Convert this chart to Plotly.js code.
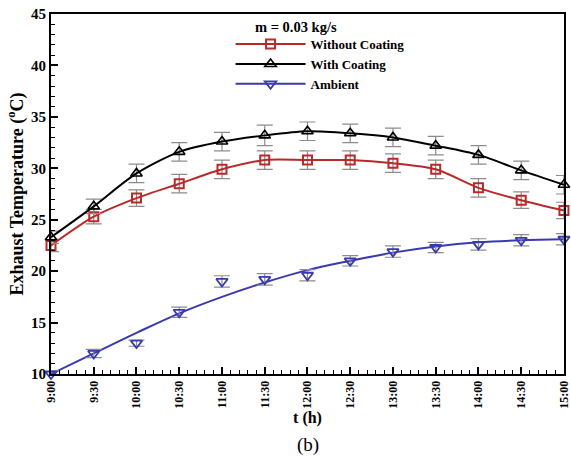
<!DOCTYPE html>
<html>
<head>
<meta charset="utf-8">
<script src="https://cdn.plot.ly/plotly-3.0.1.min.js"></script>
<style>html,body{margin:0;padding:0;background:#fff;}#chart{width:571px;height:464px;}</style>
</head>
<body>
<div id="chart"></div>
<script>
const times = ['09:00','09:30','10:00','10:30','11:00','11:30','12:00','12:30','13:00','13:30','14:00','14:30','15:00'];
const withoutCoating = [22.5, 25.3, 27.1, 28.5, 29.9, 30.8, 30.8, 30.8, 30.5, 29.9, 28.1, 26.9, 25.9];
const withoutErr     = [0.6, 0.7, 0.8, 0.9, 0.9, 0.9, 0.9, 0.9, 0.9, 0.9, 0.9, 0.8, 0.8];
const withCoating    = [23.3, 26.3, 29.5, 31.6, 32.6, 33.2, 33.6, 33.4, 33.0, 32.2, 31.3, 29.8, 28.4];
const withErr        = [0.6, 0.7, 0.9, 0.9, 0.9, 1.0, 0.9, 0.9, 0.9, 0.9, 0.9, 0.9, 0.9];
const ambient        = [10.0, 12.0, 13.0, 16.0, 19.0, 19.2, 19.6, 21.0, 21.9, 22.3, 22.6, 23.0, 23.1];
const ambientErr     = [0.3, 0.4, 0.3, 0.5, 0.55, 0.55, 0.55, 0.5, 0.55, 0.5, 0.55, 0.55, 0.55];
const ambientFit     = [10.0, 12.0, 14.0, 15.9, 17.5, 18.9, 20.1, 21.0, 21.8, 22.4, 22.8, 23.0, 23.1];

const x = times.map(t => '2000-01-01 ' + t);
const RED = '#b82a2a', BLK = '#000000', BLU = '#3a3ab0', ERR = '#8c8c8c';
const serif = 'Liberation Serif, Times New Roman, serif';

const traces = [
  {x: x, y: withoutCoating, name: 'Without Coating', mode: 'lines+markers', cliponaxis: false,
   line: {color: RED, width: 2, shape: 'spline', smoothing: 0.8},
   marker: {symbol: 'square-open', size: 9, color: RED, line: {width: 2, color: RED}},
   error_y: {type: 'data', array: withoutErr, color: ERR, thickness: 1.2, width: 8}},
  {x: x, y: withCoating, name: 'With Coating', mode: 'lines+markers', cliponaxis: false,
   line: {color: BLK, width: 2, shape: 'spline', smoothing: 0.8},
   marker: {symbol: 'triangle-up-open', size: 10, color: BLK, line: {width: 1.6, color: BLK}},
   error_y: {type: 'data', array: withErr, color: ERR, thickness: 1.2, width: 8}},
  {x: x, y: ambientFit, name: 'Ambient fit', mode: 'lines', showlegend: false, cliponaxis: false,
   line: {color: BLU, width: 2, shape: 'spline'}, hoverinfo: 'skip'},
  {x: x, y: ambient, name: 'Ambient', mode: 'markers', showlegend: false, cliponaxis: false,
   marker: {symbol: 'triangle-down-open', size: 10, color: BLU, line: {width: 1.8, color: BLU}},
   error_y: {type: 'data', array: ambientErr, color: ERR, thickness: 1.2, width: 8}},
  {x: [null], y: [null], name: 'Ambient', mode: 'lines+markers',
   line: {color: BLU, width: 2},
   marker: {symbol: 'triangle-down-open', size: 10, color: BLU, line: {width: 1.8, color: BLU}}}
];

const layout = {
  width: 571, height: 464,
  margin: {l: 51, r: 7, t: 14, b: 90},
  paper_bgcolor: '#fff', plot_bgcolor: '#fff',
  font: {family: serif, color: '#000'},
  showlegend: true,
  legend: {x: 0.35, y: 0.958, xanchor: 'left', yanchor: 'top', bgcolor: 'rgba(0,0,0,0)',
           font: {family: serif, size: 13, weight: 'bold'}, itemwidth: 70, tracegroupgap: 0},
  xaxis: {
    type: 'date', range: ['2000-01-01 09:00', '2000-01-01 15:00:02'],
    tickformat: '%-H:%M', dtick: 1800000, tick0: '2000-01-01 09:00',
    tickangle: -90, ticks: 'inside', ticklen: 7, tickwidth: 2, tickcolor: '#000',
    ticklabeloverflow: 'allow',
    tickfont: {family: serif, size: 12, weight: 'bold'},
    minor: {dtick: 360000, ticks: 'inside', ticklen: 4, tickwidth: 1, tickcolor: '#000', showgrid: false},
    showline: true, linewidth: 2, linecolor: '#000', mirror: true,
    showgrid: false, zeroline: false,
    title: {text: 't (h)', font: {family: serif, size: 16, weight: 'bold'}, standoff: 2}
  },
  yaxis: {
    range: [10, 45], dtick: 5, tick0: 10,
    ticks: 'inside', ticklen: 7, tickwidth: 2, tickcolor: '#000',
    tickfont: {family: serif, size: 15, weight: 'bold'},
    minor: {dtick: 1, ticks: 'inside', ticklen: 4, tickwidth: 1, tickcolor: '#000', showgrid: false},
    showline: true, linewidth: 2, linecolor: '#000', mirror: true,
    showgrid: false, zeroline: false,
    title: {text: 'Exhaust Temperature (<sup>o</sup>C)', font: {family: serif, size: 18, weight: 'bold'}, standoff: 3}
  },
  annotations: [
    {text: 'm = 0.03 kg/s', xref: 'paper', yref: 'paper', x: 0.393, y: 0.964, xanchor: 'left', yanchor: 'middle',
     showarrow: false, font: {family: serif, size: 14.5, weight: 'bold'}},
    {text: '(b)', xref: 'paper', yref: 'paper', x: 0.5, y: -0.198, xanchor: 'center', yanchor: 'middle',
     showarrow: false, font: {family: serif, size: 19}}
  ]
};

Plotly.newPlot('chart', traces, layout, {displayModeBar: false, staticPlot: true});
</script>
</body>
</html>
